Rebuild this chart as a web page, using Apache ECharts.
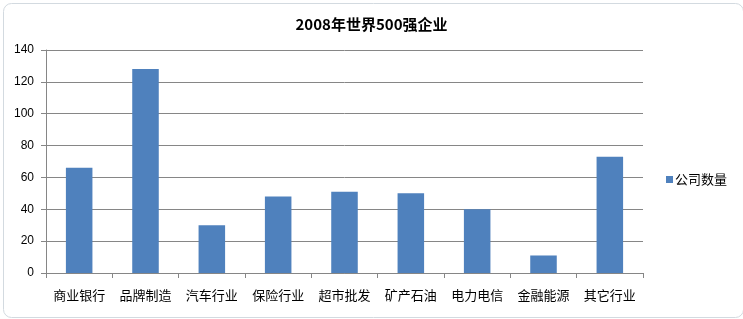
<!DOCTYPE html>
<html>
<head>
<meta charset="utf-8">
<script src="https://cdn.jsdelivr.net/npm/echarts@6/dist/echarts.min.js"></script>
<style>
html,body{margin:0;padding:0;background:#fff;}
#c{width:743px;height:319px;}
</style>
</head>
<body>
<div id="c"></div>
<script>
var titleText = '2008年世界500强企业';
var categories = ['商业银行','品牌制造','汽车行业','保险行业','超市批发','矿产石油','电力电信','金融能源','其它行业'];
var seriesName = '公司数量';
var values = [66, 128, 30, 48, 51, 50, 40, 11, 73];

var chart = echarts.init(document.getElementById('c'), null, {renderer:'canvas'});
var font = '"Noto Sans CJK SC", "Microsoft YaHei", sans-serif';
chart.setOption({
  animation: false,
  backgroundColor: '#ffffff',
  graphic: [{
    type: 'rect', left: 1, top: 1, z: -1,
    shape: {width: 740, height: 314, r: 8},
    style: {fill: 'none', stroke: '#d3dae0', lineWidth: 1}
  }],
  title: {
    text: titleText, left: 'center', top: 12,
    textStyle: {fontFamily: font, fontSize: 15, fontWeight: 'bold', color: '#000'}
  },
  legend: {
    data: [seriesName], orient: 'vertical', left: 661, top: 168,
    itemWidth: 7, itemHeight: 7, itemGap: 4, icon: 'rect',
    textStyle: {fontFamily: font, fontSize: 13, color: '#000', padding: [0,0,0,-3]}
  },
  grid: {left: 46, right: 100, top: 50, bottom: 46, containLabel: false},
  xAxis: {
    type: 'category', data: categories,
    axisLine: {show: true, lineStyle: {color: '#868686', width: 1}},
    axisTick: {show: true, alignWithLabel: false, length: 5, lineStyle: {color: '#868686'}},
    axisLabel: {fontFamily: font, fontSize: 13, color: '#000', margin: 16, interval: 0}
  },
  yAxis: {
    type: 'value', min: 0, max: 140, interval: 20,
    axisLine: {show: true, lineStyle: {color: '#868686', width: 1}},
    axisTick: {show: true, length: 5, lineStyle: {color: '#868686'}},
    axisLabel: {fontFamily: 'Arial, "Liberation Sans", sans-serif', fontSize: 12, color: '#000', margin: 12},
    splitLine: {show: true, lineStyle: {color: '#868686', width: 1}}
  },
  series: [{
    name: seriesName, type: 'bar', data: values,
    barWidth: '40%',
    itemStyle: {color: '#4f81bd'}
  }]
});
</script>
</body>
</html>
